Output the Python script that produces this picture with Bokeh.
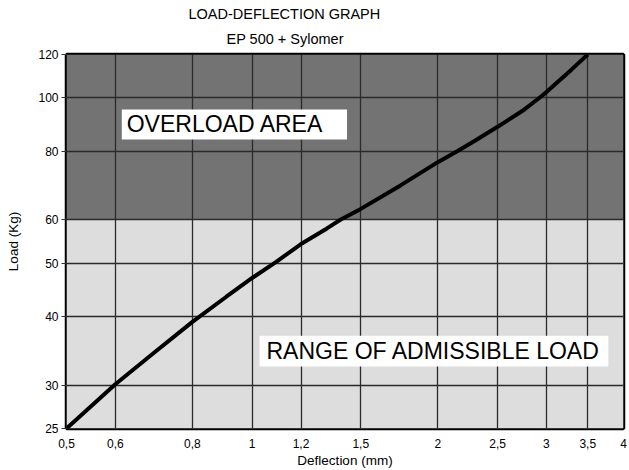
from bokeh.plotting import figure
from bokeh.models import Range1d, FixedTicker, Title, Label, BoxAnnotation
from bokeh.embed import file_html
from bokeh.resources import INLINE

# ---- data ----
deflection = [0.5, 0.6, 0.69, 0.8, 0.907, 1.0, 1.094, 1.2, 1.32, 1.39, 1.5, 1.74,
              2.0, 2.15, 2.29, 2.5, 2.76, 2.92, 3.0, 3.29, 3.5]
load = [25, 30.1, 34.2, 39.1, 43.4, 47.0, 50.3, 54.2, 57.8, 60, 62.8, 69.3,
        76.4, 80, 83.4, 88.6, 95.2, 100, 102.5, 112.5, 120]

x_ticks = [0.5, 0.6, 0.8, 1, 1.2, 1.5, 2, 2.5, 3, 3.5, 4]
x_tick_labels = ["0,5", "0,6", "0,8", "1", "1,2", "1,5", "2", "2,5", "3", "3,5", "4"]
y_ticks = [25, 30, 40, 50, 60, 80, 100, 120]
y_tick_labels = ["25", "30", "40", "50", "60", "80", "100", "120"]

title_lines = ["LOAD-DEFLECTION GRAPH", "EP 500 + Sylomer"]
zone_names = ["RANGE OF ADMISSIBLE LOAD", "OVERLOAD AREA"]
zone_bottom = [25, 60]
zone_top = [60, 120]
zone_colors = ["#dddddd", "#737373"]

FONT = "Liberation Sans"

p = figure(width=627, height=470, x_axis_type="log", y_axis_type="log",
           x_range=Range1d(0.5, 4), y_range=Range1d(25, 120),
           output_backend="svg", toolbar_location=None,
           title=title_lines[0],
           min_border_left=66, min_border_right=4, min_border_top=54, min_border_bottom=42)
p.background_fill_color = "white"
p.border_fill_color = "white"

# titles
p.title.text_font = FONT
p.title.text_font_size = "14.5px"
p.title.text_font_style = "normal"
p.title.text_color = "black"
p.title.align = "left"
p.title.offset = 122
p.title.standoff = 0
t2 = Title(text=title_lines[1], text_font=FONT, text_font_size="14.5px",
           text_font_style="normal", text_color="black",
           align="left", offset=160, standoff=15)
p.add_layout(t2, "above")

# zones
zr = p.quad(left=[0.5, 0.5], right=[4, 4], bottom=zone_bottom, top=zone_top,
            fill_color=zone_colors, line_color=None)
zr.level = "image"

# axes / ticks
p.xaxis.ticker = FixedTicker(ticks=x_ticks)
p.yaxis.ticker = FixedTicker(ticks=y_ticks)
p.xaxis.major_label_overrides = {t: l for t, l in zip(x_ticks, x_tick_labels)}
p.yaxis.major_label_overrides = {t: l for t, l in zip(y_ticks, y_tick_labels)}
for ax in (p.xaxis, p.yaxis):
    ax.major_label_text_font = FONT
    ax.major_label_text_font_size = "12px"
    ax.major_label_text_color = "black"
    ax.axis_label_text_font = FONT
    ax.axis_label_text_font_size = "13.5px"
    ax.axis_label_text_font_style = "normal"
    ax.axis_label_text_color = "black"
    ax.minor_tick_line_color = None
    ax.axis_line_color = None
p.xaxis.axis_label = "Deflection (mm)"
p.yaxis.axis_label = "Load (Kg)"
p.xaxis.major_tick_line_color = None
p.xaxis.major_tick_out = 0
p.xaxis.major_tick_in = 0
p.xaxis.major_label_standoff = 10
p.xaxis.axis_label_standoff = 2
p.yaxis.major_tick_out = 5
p.yaxis.major_tick_in = 0
p.yaxis.major_tick_line_color = "#333333"
p.yaxis.major_label_standoff = 3
p.yaxis.axis_label_standoff = 14

p.grid.grid_line_color = "#2a2a2a"
p.grid.grid_line_width = 1.3
p.outline_line_color = "black"
p.outline_line_width = 3.5

# curve
p.line(deflection, load, line_color="black", line_width=4)

# text boxes
p.add_layout(BoxAnnotation(left=0.6146, right=1.425, bottom=84.0, top=95.3,
                           fill_color="white", fill_alpha=1, line_color=None))
p.add_layout(Label(x=0.626, y=89.5, text=zone_names[1], text_baseline="middle",
                   text_font=FONT, text_font_size="23px", text_color="black"))
p.add_layout(BoxAnnotation(left=1.028, right=3.78, bottom=32.43, top=36.9,
                           fill_color="white", fill_alpha=1, line_color=None))
p.add_layout(Label(x=1.055, y=34.6, text=zone_names[0], text_baseline="middle",
                   text_font=FONT, text_font_size="23px", text_color="black"))

open("out.html", "w").write(file_html(p, INLINE))
